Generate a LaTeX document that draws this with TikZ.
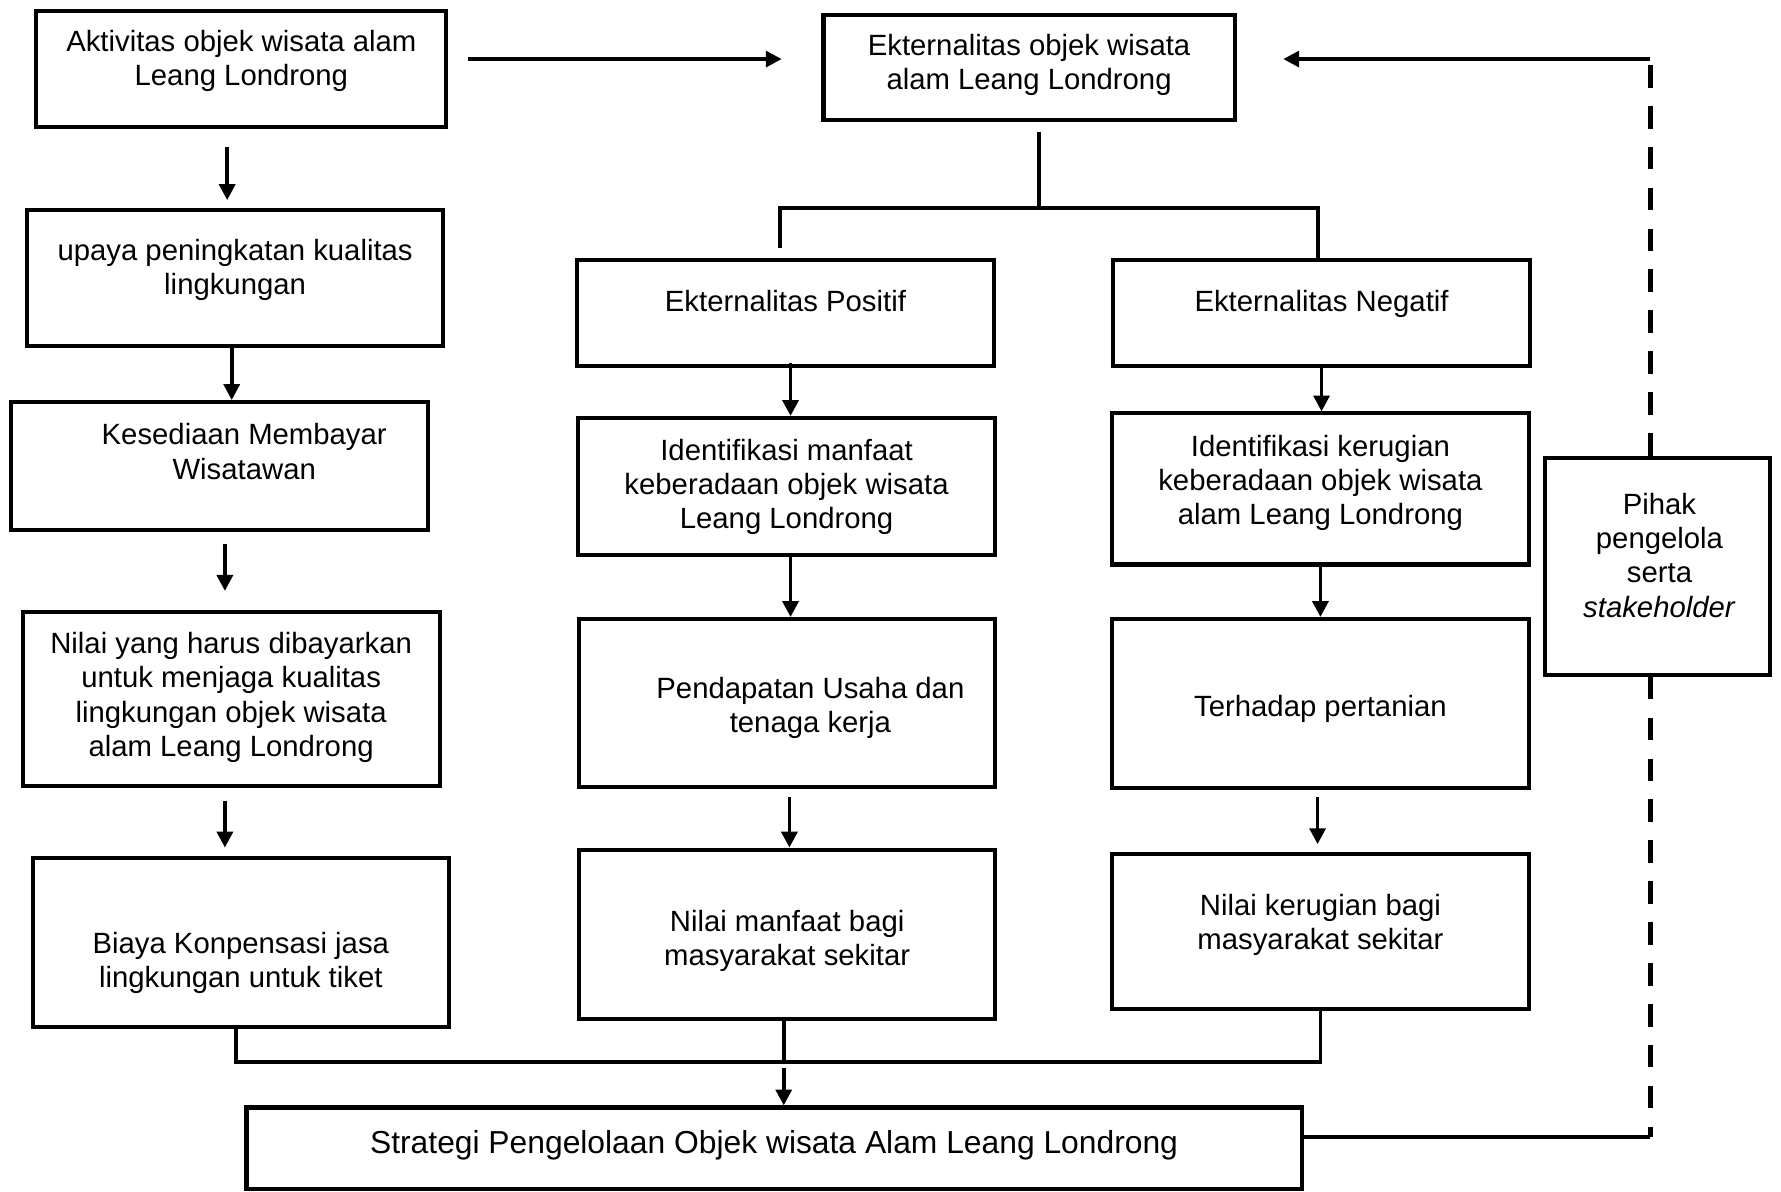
\documentclass[tikz,border=0pt]{standalone}
\usepackage{fontspec}
\setmainfont{Liberation Sans}
\usepackage{tikz}
\usetikzlibrary{arrows.meta,positioning,calc}
\tikzset{
  stage/.style={rectangle,draw=black,line width=1.8pt,inner sep=0pt},
  stagetext/.style={align=center,inner sep=0pt,yshift=-1.5pt,font=\fontsize{12.9pt}{15pt}\selectfont},
  flow/.style={-{Triangle[length=7pt,width=7pt]},line width=1.6pt},
  branch/.style={line width=1.7pt},
  feedback/.style={line width=1.9pt,dash pattern=on 10pt off 8pt}
}

\begin{document}
\begin{tikzpicture}[x=0.5pt,y=-0.5pt]
  \useasboundingbox (0,0) rectangle (1568,1049);
  \node[stage,minimum width=180.5pt,minimum height=51pt] (activity) at (212.5,61) {};
  \node[stage,minimum width=181pt,minimum height=46.5pt] (externality) at (906,59.5) {};
  \node[stage,minimum width=183pt,minimum height=60pt] (effort) at (207,245) {};
  \node[stage,minimum width=183.5pt,minimum height=56.5pt] (willingness) at (193.5,410.5) {};
  \node[stage,minimum width=183.5pt,minimum height=76.5pt] (payvalue) at (203.5,615.5) {};
  \node[stage,minimum width=183pt,minimum height=74.5pt] (compensation) at (212,829.5) {};
  \node[stage,minimum width=183.5pt,minimum height=46.5pt] (positive) at (691.5,275.5) {};
  \node[stage,minimum width=183.5pt,minimum height=46.5pt] (negative) at (1163.5,275.5) {};
  \node[stage,minimum width=183.5pt,minimum height=60.5pt] (benefitid) at (692.5,428.5) {};
  \node[stage,minimum width=183pt,minimum height=74pt] (income) at (693,619) {};
  \node[stage,minimum width=183pt,minimum height=74.5pt] (benefitval) at (693,822.5) {};
  \node[stage,minimum width=183.5pt,minimum height=66.5pt] (lossid) at (1162.5,430.5) {};
  \node[stage,minimum width=183.5pt,minimum height=74.5pt] (farming) at (1162.5,619.5) {};
  \node[stage,minimum width=183.5pt,minimum height=68pt] (lossval) at (1162.5,820) {};
  \node[stage,minimum width=464.5pt,minimum height=36pt] (strategy) at (681.5,1011) {};
  \node[stage,minimum width=99pt,minimum height=95.5pt] (manager) at (1459,498.5) {};

  \node[stagetext] (activitytext) at ([yshift=5pt]activity) {Aktivitas objek wisata alam\\Leang Londrong};
  \node[stagetext] (externalitytext) at ([yshift=2.5pt]externality) {Ekternalitas objek wisata\\alam Leang Londrong};
  \node[stagetext] (efforttext) at ([yshift=5pt]effort) {upaya peningkatan kualitas\\lingkungan};
  \node[stagetext] (willingnesstext) at ([shift={(21.5,-16)}]willingness) {Kesediaan Membayar\\Wisatawan};
  \node[stagetext] (payvaluetext) at ([yshift=2.25pt]payvalue) {Nilai yang harus dibayarkan\\untuk menjaga kualitas\\lingkungan objek wisata\\alam Leang Londrong};
  \node[stagetext] (compensationtext) at ([yshift=-7.75pt]compensation) {Biaya Konpensasi jasa\\lingkungan untuk tiket};
  \node[stagetext] (positivetext) at ([yshift=6.75pt]positive) {Ekternalitas Positif};
  \node[stagetext] (negativetext) at ([yshift=5.25pt]negative) {Ekternalitas Negatif};
  \node[stagetext] (benefitidtext) at ([yshift=1.5pt]benefitid) {Identifikasi manfaat\\keberadaan objek wisata\\Leang Londrong};
  \node[stagetext] (incometext) at ([shift={(20.5,1)}]income) {Pendapatan Usaha dan\\tenaga kerja};
  \node[stagetext] (benefitvaltext) at ([yshift=-1.25pt]benefitval) {Nilai manfaat bagi\\masyarakat sekitar};
  \node[stagetext] (lossidtext) at ([yshift=4.25pt]lossid) {Identifikasi kerugian\\keberadaan objek wisata\\alam Leang Londrong};
  \node[stagetext] (farmingtext) at ([yshift=-0.75pt]farming) {Terhadap pertanian};
  \node[stagetext] (lossvaltext) at ([yshift=4.5pt]lossval) {Nilai kerugian bagi\\masyarakat sekitar};
  \node[stagetext,font=\fontsize{14pt}{16pt}\selectfont] (strategytext) at ([yshift=3pt]strategy) {Strategi Pengelolaan Objek wisata Alam Leang Londrong};
  \node[stagetext] (managertext) at ([shift={(2,-12.5)}]manager) {Pihak\\pengelola\\serta\\\textit{stakeholder}};

  \coordinate (split) at (915,183);
  \coordinate (merge) at (690,935);
  \coordinate (fbtop) at (1453,52);
  \coordinate (fbbot) at (1453,1001);

  \draw[flow] ([shift={(17,-9)}]activity.east) -- ([shift={(-35,-7.5)}]externality.west);
  \draw[flow] (fbtop) -- ([shift={(41,-7.5)}]externality.east);
  \draw[feedback] (fbtop |- manager.north) -- (fbtop);
  \draw[feedback] (fbbot |- manager.south) -- (fbbot);
  \draw[branch] (strategy.east |- fbbot) -- (fbbot);

  \draw[branch] ([yshift=-4pt]externality.south -| split) -- (split);
  \draw[branch] ([shift={(-4.5,-9)}]positive.north) |- ([xshift=-1.75pt]negative.north |- split) -- ([xshift=-1.75pt]negative.north);

  \draw[flow] ([shift={(-12.5,16)}]activity.south) -- ([shift={(-7,-7)}]effort.north);
  \draw[flow] ([xshift=-1.5pt]effort.south) -- ([xshift=-1.5pt]effort.south |- willingness.north);
  \draw[flow] ([shift={(4.5,10)}]willingness.south) -- ([shift={(-5.5,-17)}]payvalue.north);
  \draw[flow] ([shift={(-5.5,11)}]payvalue.south) -- ([shift={(-14,-7)}]compensation.north);

  \draw[flow] ([shift={(4.5,-4)}]positive.south) -- ([xshift=1.75pt]benefitid.north);
  \draw[flow] ([xshift=1.75pt]benefitid.south) -- ([xshift=1.5pt]income.north);
  \draw[flow] ([shift={(2,7)}]income.south) -- ([xshift=1pt]benefitval.north);

  \draw[flow] (negative.south) -- (negative.south |- lossid.north);
  \draw[flow] (lossid.south) -- (farming.north);
  \draw[flow] ([shift={(-2.5,6)}]farming.south) -- ([shift={(-2.5,-7)}]lossval.north);

  \draw[branch] ([xshift=-2pt]compensation.south) |- (lossval.south |- merge) -- (lossval.south);
  \draw[branch] ([xshift=-1.5pt]benefitval.south) -- ([xshift=-1.5pt]benefitval.south |- merge);
  \draw[flow] ([yshift=-2.5pt]merge) -- (merge |- strategy.north);
\end{tikzpicture}
\end{document}
